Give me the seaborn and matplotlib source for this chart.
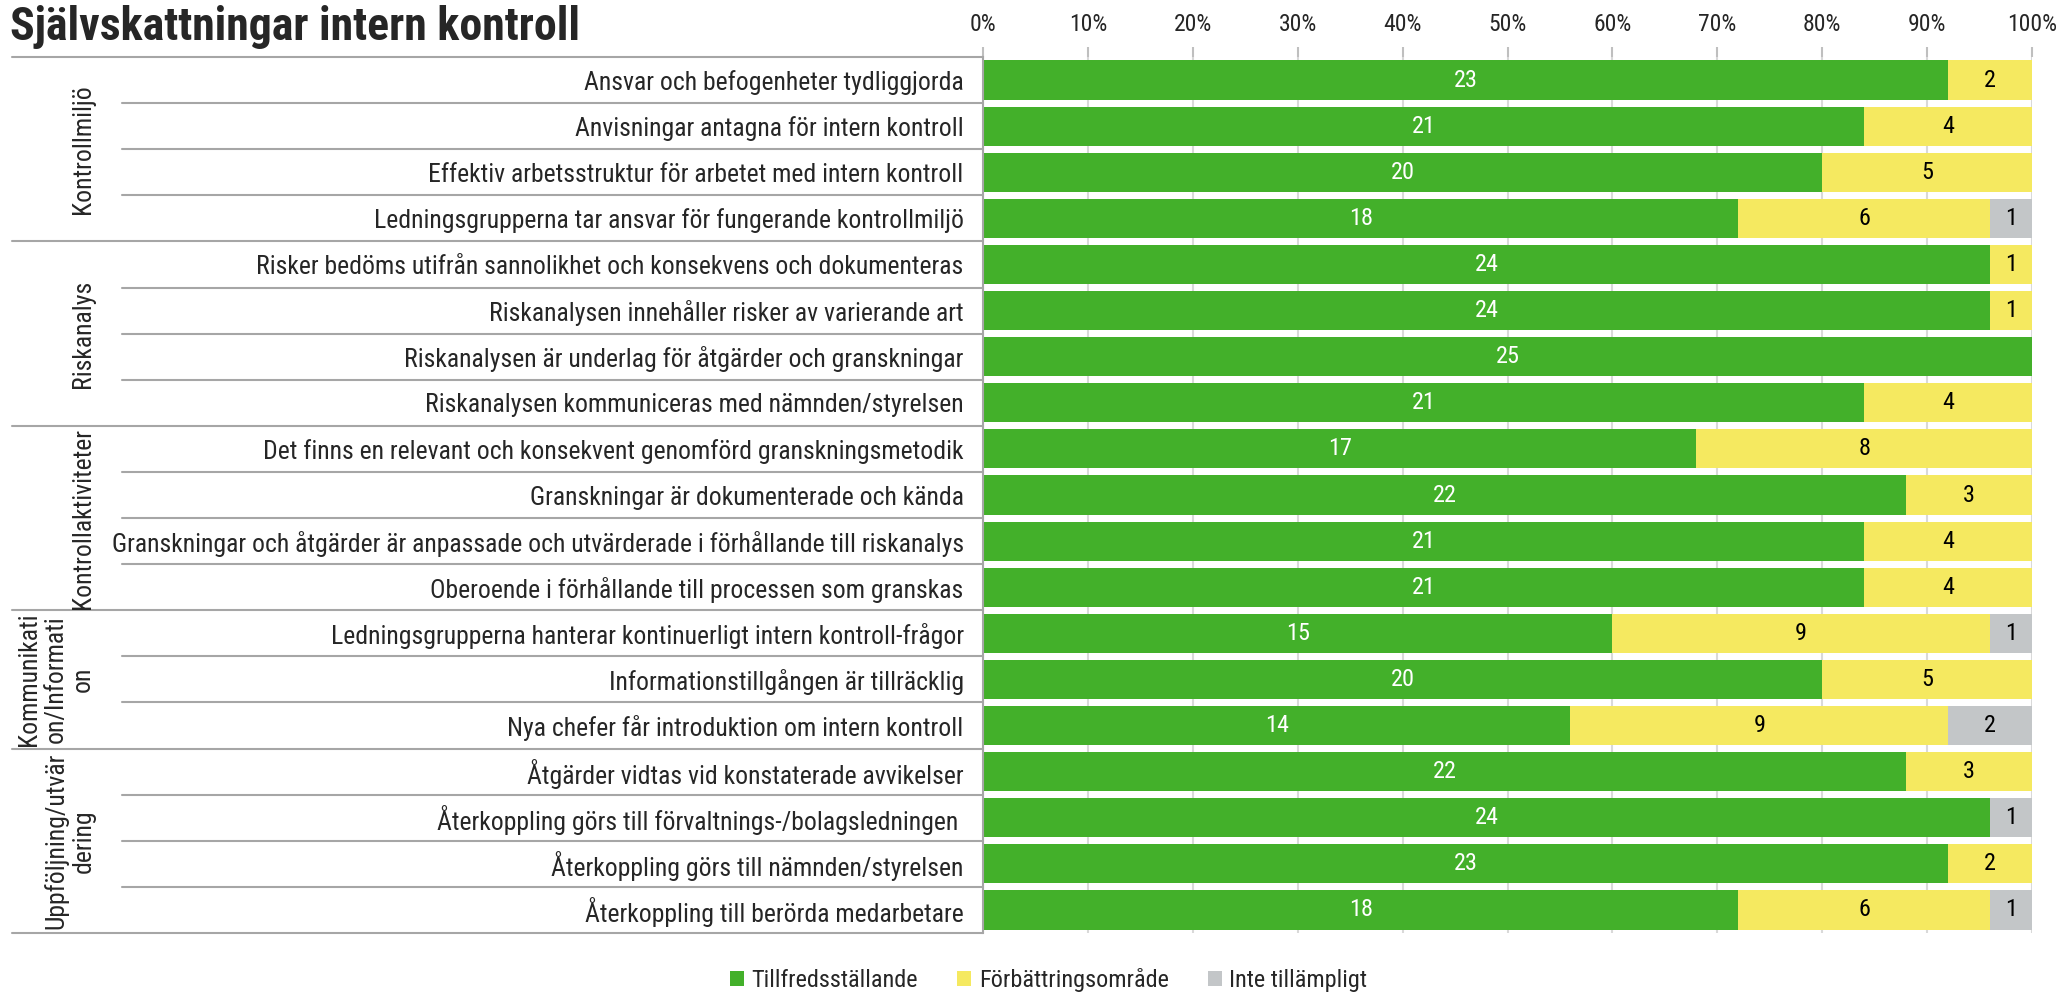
import matplotlib
matplotlib.use("Agg")
import matplotlib.pyplot as plt
import matplotlib.transforms as mtransforms
from matplotlib.patches import Patch
import seaborn as sns
import pandas as pd

# Data
groups = ["Kontrollmiljö", "Riskanalys", "Kontrollaktiviteter",
          "Kommunikati\non/Informati\non", "Uppföljning/utvär\ndering"]
group_sizes = [4, 4, 4, 3, 4]

items = [
    "Ansvar och befogenheter tydliggjorda",
    "Anvisningar antagna för intern kontroll",
    "Effektiv arbetsstruktur för arbetet med intern kontroll",
    "Ledningsgrupperna tar ansvar för fungerande kontrollmiljö",
    "Risker bedöms utifrån sannolikhet och konsekvens och dokumenteras",
    "Riskanalysen innehåller risker av varierande art",
    "Riskanalysen är underlag för åtgärder och granskningar",
    "Riskanalysen kommuniceras med nämnden/styrelsen",
    "Det finns en relevant och konsekvent genomförd granskningsmetodik",
    "Granskningar är dokumenterade och kända",
    "Granskningar och åtgärder är anpassade och utvärderade i förhållande till riskanalys",
    "Oberoende i förhållande till processen som granskas",
    "Ledningsgrupperna hanterar kontinuerligt intern kontroll-frågor",
    "Informationstillgången är tillräcklig",
    "Nya chefer får introduktion om intern kontroll",
    "Åtgärder vidtas vid konstaterade avvikelser",
    "Återkoppling görs till förvaltnings-/bolagsledningen ",
    "Återkoppling görs till nämnden/styrelsen",
    "Återkoppling till berörda medarbetare",
]
satisfactory = [23, 21, 20, 18, 24, 24, 25, 21, 17, 22, 21, 21, 15, 20, 14, 22, 24, 23, 18]
improvement = [2, 4, 5, 6, 1, 1, 0, 4, 8, 3, 4, 4, 9, 5, 9, 3, 0, 2, 6]
not_applicable = [0, 0, 0, 1, 0, 0, 0, 0, 0, 0, 0, 0, 1, 0, 2, 0, 1, 0, 1]

series_names = ["Tillfredsställande", "Förbättringsområde", "Inte tillämpligt"]
colors = ["#43B02A", "#F5E960", "#C3C6C8"]
text_colors = ["white", "black", "black"]
xticks = [0, 10, 20, 30, 40, 50, 60, 70, 80, 90, 100]

sns.set_theme(style="white")
plt.rcParams["font.family"] = ["Roboto Condensed", "Open Sans Condensed",
                               "Roboto", "DejaVu Sans"]

df = pd.DataFrame({"item": items, "s": satisfactory, "i": improvement, "n": not_applicable})
total = df[["s", "i", "n"]].sum(axis=1)
df["p_s"] = df["s"] / total * 100
df["p_i"] = df["i"] / total * 100
df["p_n"] = df["n"] / total * 100
df["c1"] = df["p_s"]
df["c2"] = df["p_s"] + df["p_i"]
df["c3"] = df["c2"] + df["p_n"]

fig = plt.figure(figsize=(20.64, 9.93), dpi=100)
ax = fig.add_axes([0.4763, 0.0604, 0.5082, 0.8822])

# stacked bars: draw cumulative totals back to front
for col, color in zip(["c3", "c2", "c1"], colors[::-1]):
    sns.barplot(data=df, x=col, y="item", color=color, saturation=1,
                width=0.85, linewidth=0, ax=ax)

# segment labels
for row in range(len(df)):
    start = 0
    for k, (cnt, pc) in enumerate(zip(["s", "i", "n"], ["p_s", "p_i", "p_n"])):
        v = df.loc[row, cnt]
        w = df.loc[row, pc]
        if v > 0:
            ax.text(start + w / 2, row, str(v), ha="center", va="center",
                    fontsize=17.5, color=text_colors[k])
        start += w

ax.set_xlim(0, 100)
ax.set_ylim(len(df) - 0.5, -0.5)
ax.set_xticks(xticks)
ax.set_xticklabels([f"{t}%" for t in xticks])
ax.xaxis.tick_top()
ax.tick_params(axis="x", top=True, length=7, width=1.5, color="#BFBFBF",
               pad=8, labelsize=17)
ax.tick_params(axis="y", left=False, length=0, pad=14, labelsize=18.5)
ax.set_xlabel("")
ax.set_ylabel("")
ax.grid(axis="x", color="#D9D9D9", lw=1.5)
ax.grid(axis="y", visible=False)
ax.set_axisbelow(True)
for s in ["top", "right", "bottom"]:
    ax.spines[s].set_visible(False)
ax.spines["left"].set_color("#A6A6A6")
ax.spines["left"].set_linewidth(1.5)

# table lines in the label area
trans = mtransforms.blended_transform_factory(ax.transAxes, ax.transData)
bounds = [0]
for g in group_sizes:
    bounds.append(bounds[-1] + g)
for r in range(len(df) + 1):
    x0 = -0.926 if r in bounds else -0.821
    ax.plot([x0, 0], [r - 0.5, r - 0.5], color="#A6A6A6", lw=1.5,
            transform=trans, clip_on=False)

# group labels
group_x = [-0.858, -0.858, -0.858, -0.884, -0.871]
for gi, name in enumerate(groups):
    mid = (bounds[gi] + bounds[gi + 1] - 1) / 2
    ax.text(group_x[gi], mid, name, rotation=90, ha="center", va="center",
            multialignment="center", fontsize=18.5, linespacing=1.15,
            transform=trans)

fig.text(0.005, 0.960, "Självskattningar intern kontroll", fontsize=33,
         fontweight="bold", ha="left", va="baseline")

handles = [Patch(facecolor=c, edgecolor="none") for c in colors]
fig.legend(handles, series_names, loc="center", bbox_to_anchor=(0.508, 0.013),
           ncol=3, frameon=False, fontsize=17.5, handlelength=0.6,
           handleheight=0.6, handletextpad=0.3, columnspacing=1.6)

fig.savefig("out.png", dpi=100)
